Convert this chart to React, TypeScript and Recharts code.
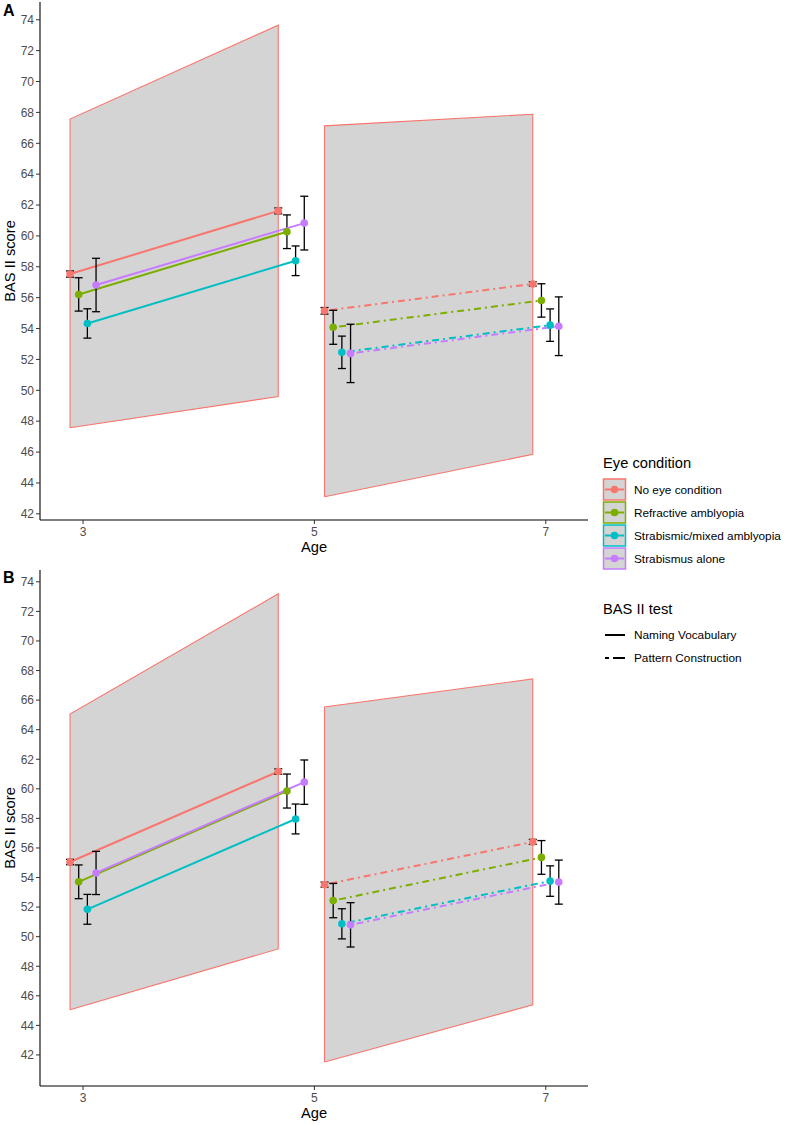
import React from 'react';
import { ComposedChart, XAxis, YAxis, Line, Area, Scatter, ErrorBar, Label } from 'recharts';

const GROUPS = ['No eye condition', 'Refractive amblyopia', 'Strabismic/mixed amblyopia', 'Strabismus alone'];
const COLORS = ['#F8766D', '#7CAE00', '#00BFC4', '#C77CFF'];
const TESTS = ['Naming Vocabulary', 'Pattern Construction'];
const AGE_TICKS = [3, 5, 7];
const SCORE_TICKS = [42, 44, 46, 48, 50, 52, 54, 56, 58, 60, 62, 64, 66, 68, 70, 72, 74];

// mean age at each sweep for each test, and the dodge between eye groups
const NV_AGES = [3.0, 4.8];
const PC_AGES = [5.2, 7.0];
const DODGE = [-0.1125, -0.0375, 0.0375, 0.1125];

// panel A: means and error half-widths per group, [first sweep, second sweep]
const A_NV_MEAN = [[57.53, 61.62], [56.21, 60.27], [54.33, 58.39], [56.82, 60.83]];
const A_NV_ERR = [[0.2, 0.19], [1.08, 1.09], [0.95, 0.96], [1.73, 1.74]];
const A_PC_MEAN = [[55.15, 56.89], [54.08, 55.82], [52.46, 54.22], [52.39, 54.15]];
const A_PC_ERR = [[0.21, 0.14], [1.1, 1.08], [1.05, 1.05], [1.89, 1.9]];
// reference band [low, high] at each sweep
const A_NV_BAND = [[47.57, 67.57], [49.6, 73.65]];
const A_PC_BAND = [[43.11, 67.13], [45.85, 67.88]];

// panel B
const B_NV_MEAN = [[55.05, 61.17], [53.71, 59.85], [51.85, 57.96], [54.31, 60.45]];
const B_NV_ERR = [[0.18, 0.18], [1.14, 1.15], [1.01, 1.01], [1.46, 1.5]];
const B_PC_MEAN = [[53.52, 56.41], [52.44, 55.36], [50.87, 53.76], [50.8, 53.69]];
const B_PC_ERR = [[0.17, 0.17], [1.16, 1.14], [1.02, 1.03], [1.5, 1.49]];
const B_NV_BAND = [[45.06, 65.06], [49.17, 73.19]];
const B_PC_BAND = [[41.52, 65.54], [45.39, 67.43]];

const FONT = '"Liberation Sans", Arial, sans-serif';
const BAND_FILL = '#d4d4d4';
const DOTDASH = '2 4 7 4';

interface PanelProps {
  nvMean: number[][];
  nvErr: number[][];
  pcMean: number[][];
  pcErr: number[][];
  nvBand: number[][];
  pcBand: number[][];
  domain: [number, number];
  height: number;
}

function Panel({ nvMean, nvErr, pcMean, pcErr, nvBand, pcBand, domain, height }: PanelProps) {
  const bands = [
    { key: 'nv', ages: NV_AGES, band: nvBand },
    { key: 'pc', ages: PC_AGES, band: pcBand },
  ];
  const tests = [
    { key: 'nv', ages: NV_AGES, mean: nvMean, err: nvErr, dash: undefined as string | undefined },
    { key: 'pc', ages: PC_AGES, mean: pcMean, err: pcErr, dash: DOTDASH },
  ];

  return (
    <ComposedChart width={600} height={height} margin={{ top: 2, right: 12, bottom: 0, left: 0 }}>
      <XAxis
        dataKey="x"
        type="number"
        domain={[2.628, 7.365]}
        ticks={AGE_TICKS}
        allowDataOverflow
        height={36}
        tickSize={4}
        tickMargin={3}
        axisLine={{ stroke: '#000', strokeWidth: 1.1 }}
        tickLine={{ stroke: '#333' }}
        tick={{ fill: '#4d4d4d', fontSize: 12, fontFamily: FONT }}
      >
        <Label value="Age" position="insideBottom" offset={4} fill="#000" fontSize={14.7} fontFamily={FONT} />
      </XAxis>
      <YAxis
        type="number"
        domain={domain}
        ticks={SCORE_TICKS}
        allowDataOverflow
        width={40}
        tickSize={4}
        tickMargin={2}
        axisLine={{ stroke: '#000', strokeWidth: 1.1 }}
        tickLine={{ stroke: '#333' }}
        tick={{ fill: '#4d4d4d', fontSize: 12, fontFamily: FONT }}
      >
        <Label
          value="BAS II score"
          angle={-90}
          position="insideLeft"
          offset={10}
          fill="#000"
          fontSize={14.7}
          fontFamily={FONT}
          style={{ textAnchor: 'middle' }}
        />
      </YAxis>

      {bands.map((b) => {
        const rows = b.ages.map((a, j) => ({ x: a + DODGE[0], band: b.band[j] }));
        const outline = [
          { x: rows[0].x, y: rows[0].band[0] },
          { x: rows[0].x, y: rows[0].band[1] },
          { x: rows[1].x, y: rows[1].band[1] },
          { x: rows[1].x, y: rows[1].band[0] },
          { x: rows[0].x, y: rows[0].band[0] },
        ];
        return (
          <React.Fragment key={'band-' + b.key}>
            <Area
              data={rows}
              dataKey="band"
              type="linear"
              fill={BAND_FILL}
              fillOpacity={1}
              stroke="none"
              isAnimationActive={false}
            />
            <Line
              data={outline}
              dataKey="y"
              type="linear"
              stroke="#F8766D"
              strokeWidth={1.1}
              dot={false}
              activeDot={false}
              isAnimationActive={false}
            />
          </React.Fragment>
        );
      })}

      {tests.map((t) =>
        GROUPS.map((g, gi) => {
          const rows = t.ages.map((a, j) => ({ x: a + DODGE[gi], y: t.mean[gi][j], err: t.err[gi][j] }));
          return (
            <React.Fragment key={t.key + '-' + gi}>
              <Line
                data={rows}
                dataKey="y"
                type="linear"
                stroke={COLORS[gi]}
                strokeWidth={2}
                strokeDasharray={t.dash}
                dot={false}
                activeDot={false}
                isAnimationActive={false}
              />
              <Scatter
                data={rows}
                dataKey="y"
                isAnimationActive={false}
                shape={(p: any) => <circle cx={p.cx} cy={p.cy} r={3.8} fill={COLORS[gi]} />}
              />
              <Scatter
                data={rows}
                dataKey="y"
                isAnimationActive={false}
                shape={() => <g />}
              >
                <ErrorBar dataKey="err" direction="y" width={4} stroke="#000" strokeWidth={1.3} />
              </Scatter>
            </React.Fragment>
          );
        })
      )}
    </ComposedChart>
  );
}

function Legend() {
  return (
    <svg width={196} height={240} style={{ position: 'absolute', left: 590, top: 440 }} fontFamily={FONT}>
      <text x={13} y={28} fontSize={14.7} fill="#000">Eye condition</text>
      {GROUPS.map((g, i) => {
        const top = 39 + i * 23;
        const cy = top + 10.5;
        return (
          <g key={g}>
            <rect x={13.5} y={top} width={22} height={21} fill={BAND_FILL} stroke={COLORS[i]} strokeWidth={1.5} />
            <line x1={15} x2={34} y1={cy} y2={cy} stroke={COLORS[i]} strokeWidth={2} />
            <circle cx={24.5} cy={cy} r={3.8} fill={COLORS[i]} />
            <text x={44} y={cy + 4.6} fontSize={11.8} fill="#000">{g}</text>
          </g>
        );
      })}
      <text x={13} y={174} fontSize={14.7} fill="#000">BAS II test</text>
      {TESTS.map((t, i) => {
        const cy = 195 + i * 23;
        return (
          <g key={t}>
            <line
              x1={15}
              x2={35}
              y1={cy}
              y2={cy}
              stroke="#000"
              strokeWidth={2}
              strokeDasharray={i === 1 ? '4 4 12 0' : undefined}
            />
            <text x={44} y={cy + 4.3} fontSize={11.8} fill="#000">{t}</text>
          </g>
        );
      })}
    </svg>
  );
}

export default function App() {
  return (
    <div style={{ position: 'absolute', left: 0, top: 0, width: 786, height: 1125, background: '#fff', fontFamily: FONT }}>
      <div style={{ position: 'absolute', left: 0, top: 0 }}>
        <Panel
          nvMean={A_NV_MEAN}
          nvErr={A_NV_ERR}
          pcMean={A_PC_MEAN}
          pcErr={A_PC_ERR}
          nvBand={A_NV_BAND}
          pcBand={A_PC_BAND}
          domain={[41.6, 75.15]}
          height={556}
        />
      </div>
      <div style={{ position: 'absolute', left: 0, top: 568 }}>
        <Panel
          nvMean={B_NV_MEAN}
          nvErr={B_NV_ERR}
          pcMean={B_PC_MEAN}
          pcErr={B_PC_ERR}
          nvBand={B_NV_BAND}
          pcBand={B_PC_BAND}
          domain={[39.9, 74.8]}
          height={554}
        />
      </div>
      <div style={{ position: 'absolute', left: 3, top: 2, fontSize: 16, fontWeight: 'bold', lineHeight: '18px' }}>A</div>
      <div style={{ position: 'absolute', left: 3, top: 569, fontSize: 16, fontWeight: 'bold', lineHeight: '18px' }}>B</div>
      <Legend />
    </div>
  );
}
